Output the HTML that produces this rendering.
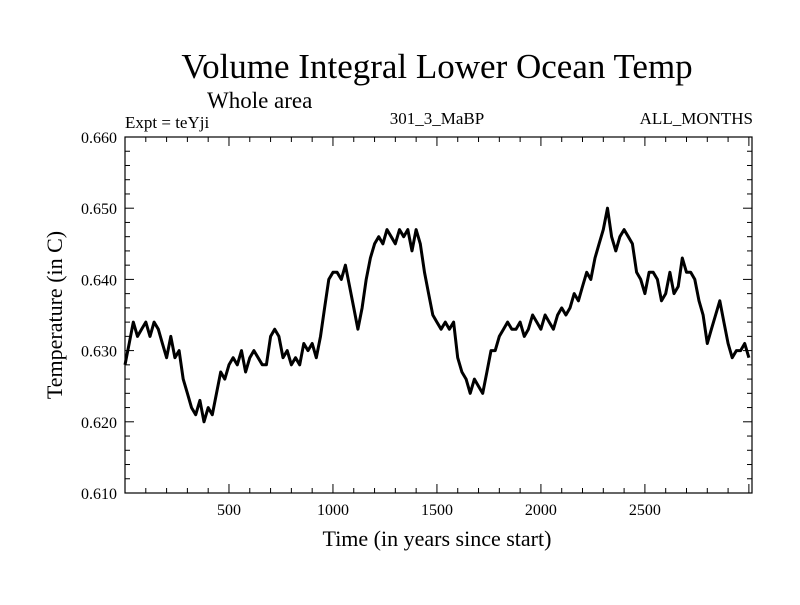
<!DOCTYPE html>
<html><head><meta charset="utf-8"><style>
body{margin:0;background:#fff}
svg text{font-family:"Liberation Serif",serif;fill:#000}
</style></head><body>
<svg width="800" height="600" xmlns="http://www.w3.org/2000/svg">
<rect width="800" height="600" fill="#fff"/>
<text x="437" y="78" font-size="35" text-anchor="middle">Volume Integral Lower Ocean Temp</text>
<text x="207" y="108" font-size="23">Whole area</text>
<text x="125" y="128" font-size="17">Expt = teYji</text>
<text x="437" y="124" font-size="17" text-anchor="middle">301_3_MaBP</text>
<text x="753" y="124" font-size="17" text-anchor="end">ALL_MONTHS</text>
<g id="axes"></g>
<path id="series" fill="none" stroke="#000" stroke-width="3" stroke-linejoin="round"/>
<rect x="125" y="137" width="627" height="356" fill="none" stroke="#000" stroke-width="1.2"/>
<text x="437" y="546" font-size="22" text-anchor="middle">Time (in years since start)</text>
<text transform="translate(62,315) rotate(-90)" font-size="22" text-anchor="middle">Temperature (in C)</text>
</svg>
<script>
const years=[0,20,40,60,80,100,120,140,160,180,200,220,240,260,280,300,320,340,360,380,400,420,440,460,480,500,520,540,560,580,600,620,640,660,680,700,720,740,760,780,800,820,840,860,880,900,920,940,960,980,1000,1020,1040,1060,1080,1100,1120,1140,1160,1180,1200,1220,1240,1260,1280,1300,1320,1340,1360,1380,1400,1420,1440,1460,1480,1500,1520,1540,1560,1580,1600,1620,1640,1660,1680,1700,1720,1740,1760,1780,1800,1820,1840,1860,1880,1900,1920,1940,1960,1980,2000,2020,2040,2060,2080,2100,2120,2140,2160,2180,2200,2220,2240,2260,2280,2300,2320,2340,2360,2380,2400,2420,2440,2460,2480,2500,2520,2540,2560,2580,2600,2620,2640,2660,2680,2700,2720,2740,2760,2780,2800,2820,2840,2860,2880,2900,2920,2940,2960,2980,3000];
const temps=[0.628,0.631,0.634,0.632,0.633,0.634,0.632,0.634,0.633,0.631,0.629,0.632,0.629,0.630,0.626,0.624,0.622,0.621,0.623,0.620,0.622,0.621,0.624,0.627,0.626,0.628,0.629,0.628,0.630,0.627,0.629,0.630,0.629,0.628,0.628,0.632,0.633,0.632,0.629,0.630,0.628,0.629,0.628,0.631,0.630,0.631,0.629,0.632,0.636,0.640,0.641,0.641,0.640,0.642,0.639,0.636,0.633,0.636,0.640,0.643,0.645,0.646,0.645,0.647,0.646,0.645,0.647,0.646,0.647,0.644,0.647,0.645,0.641,0.638,0.635,0.634,0.633,0.634,0.633,0.634,0.629,0.627,0.626,0.624,0.626,0.625,0.624,0.627,0.630,0.630,0.632,0.633,0.634,0.633,0.633,0.634,0.632,0.633,0.635,0.634,0.633,0.635,0.634,0.633,0.635,0.636,0.635,0.636,0.638,0.637,0.639,0.641,0.640,0.643,0.645,0.647,0.650,0.646,0.644,0.646,0.647,0.646,0.645,0.641,0.640,0.638,0.641,0.641,0.640,0.637,0.638,0.641,0.638,0.639,0.643,0.641,0.641,0.640,0.637,0.635,0.631,0.633,0.635,0.637,0.634,0.631,0.629,0.630,0.630,0.631,0.629];
const xTicks=[500,1000,1500,2000,2500];
const yTicks=[0.610,0.620,0.630,0.640,0.650,0.660];
const X0=125,X1=752,Y0=493,Y1=137,XMIN=0,XMAX=3015,YMIN=0.610,YMAX=0.660;
const sx=v=>X0+(v-XMIN)/(XMAX-XMIN)*(X1-X0);
const sy=v=>Y0-(v-YMIN)/(YMAX-YMIN)*(Y0-Y1);
const NS="http://www.w3.org/2000/svg";
const g=document.getElementById('axes');
function line(x1,y1,x2,y2){const l=document.createElementNS(NS,'line');l.setAttribute('x1',x1);l.setAttribute('y1',y1);l.setAttribute('x2',x2);l.setAttribute('y2',y2);l.setAttribute('stroke','#000');l.setAttribute('stroke-width','1');g.appendChild(l);return l;}
for(let v=100;v<XMAX;v+=100){const major=v%500===0;const L=major?9:5;
 let a=line(sx(v),Y0,sx(v),Y0-L);
 let b=line(sx(v),Y1,sx(v),Y1+L);}
for(let i=1;i<25;i++){const v=YMIN+i*0.002;const major=i%5===0;const L=major?9:5;
 let a=line(X0,sy(v),X0+L,sy(v));
 let b=line(X1,sy(v),X1-L,sy(v));}
xTicks.forEach(v=>{const t=document.createElementNS(NS,'text');t.setAttribute('x',sx(v));t.setAttribute('y',Y0+22);t.setAttribute('font-size','16');t.setAttribute('text-anchor','middle');t.textContent=v;
 
 
 g.appendChild(t);});
yTicks.forEach(v=>{const t=document.createElementNS(NS,'text');t.setAttribute('x',X0-8);t.setAttribute('y',sy(v)+6);t.setAttribute('font-size','16');t.setAttribute('text-anchor','end');t.textContent=v.toFixed(3);
 
 
 g.appendChild(t);});
let d='';years.forEach((y,i)=>{d+=(i?'L':'M')+sx(y).toFixed(1)+' '+sy(temps[i]).toFixed(1);});
document.getElementById('series').setAttribute('d',d);
</script>
</body></html>
